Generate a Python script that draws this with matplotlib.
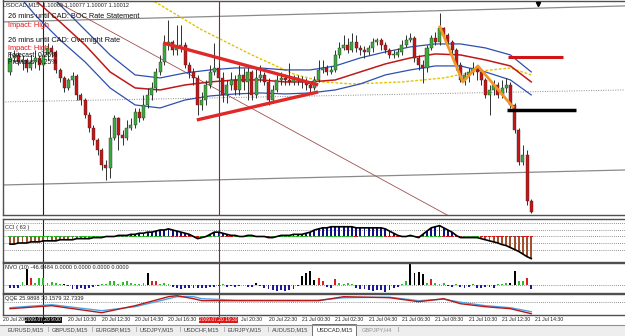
import matplotlib
matplotlib.use("Agg")
import matplotlib.pyplot as plt
from matplotlib.patches import Rectangle
import numpy as np

W, H = 625, 336
plt.rcParams['font.family'] = ['Liberation Sans', 'DejaVu Sans']

# ---------------- data ----------------
first_open = 1.10710
close = [1.10780, 1.10795, 1.10760, 1.10770, 1.10730, 1.10760, 1.10780, 1.10745, 1.10795, 1.10830,
         1.10810, 1.10720, 1.10680, 1.10630, 1.10670, 1.10690, 1.10595, 1.10570, 1.10495, 1.10430,
         1.10370, 1.10320, 1.10245, 1.10230, 1.10380, 1.10480, 1.10395, 1.10380, 1.10430, 1.10445,
         1.10510, 1.10480, 1.10545, 1.10595, 1.10630, 1.10710, 1.10760, 1.10845, 1.10860, 1.10820,
         1.10830, 1.10845, 1.10745, 1.10710, 1.10680, 1.10545, 1.10570, 1.10645, 1.10710, 1.10730,
         1.10680, 1.10595, 1.10645, 1.10670, 1.10620, 1.10695, 1.10660, 1.10710, 1.10595, 1.10680,
         1.10695, 1.10660, 1.10570, 1.10620, 1.10670, 1.10680, 1.10670, 1.10660, 1.10680, 1.10670,
         1.10660, 1.10645, 1.10630, 1.10670, 1.10720, 1.10730, 1.10710, 1.10720, 1.10795, 1.10830,
         1.10845, 1.10820, 1.10860, 1.10830, 1.10820, 1.10810, 1.10830, 1.10860, 1.10870, 1.10845,
         1.10820, 1.10795, 1.10795, 1.10810, 1.10845, 1.10870, 1.10880, 1.10780, 1.10745, 1.10730,
         1.10830, 1.10880, 1.10860, 1.10930, 1.10895, 1.10860, 1.10820, 1.10745, 1.10670, 1.10695,
         1.10710, 1.10730, 1.10710, 1.10670, 1.10595, 1.10620, 1.10645, 1.10595, 1.10630, 1.10645,
         1.10545, 1.10420, 1.10260, 1.10295, 1.10063, 1.10012]
high = [1.10810, 1.10820, 1.10810, 1.10795, 1.10780, 1.10795, 1.10820, 1.10795, 1.10845, 1.10855,
        1.10845, 1.10820, 1.10730, 1.10690, 1.10680, 1.10710, 1.10700, 1.10605, 1.10580, 1.10510,
        1.10445, 1.10380, 1.10330, 1.10270, 1.10445, 1.10495, 1.10485, 1.10420, 1.10470, 1.10480,
        1.10530, 1.10530, 1.10595, 1.10630, 1.10660, 1.10730, 1.10795, 1.10895, 1.10970, 1.10870,
        1.10945, 1.10945, 1.10860, 1.10760, 1.10730, 1.10695, 1.10610, 1.10670, 1.10745, 1.10855,
        1.10755, 1.10710, 1.10670, 1.10710, 1.10695, 1.10745, 1.10730, 1.10745, 1.10720, 1.10730,
        1.10745, 1.10710, 1.10680, 1.10645, 1.10695, 1.10710, 1.10700, 1.10755, 1.10695, 1.10695,
        1.10690, 1.10680, 1.10660, 1.10690, 1.10770, 1.10770, 1.10745, 1.10740, 1.10820, 1.10860,
        1.10895, 1.10880, 1.10905, 1.10895, 1.10845, 1.10840, 1.10845, 1.10880, 1.10880, 1.10880,
        1.10860, 1.10830, 1.10820, 1.10830, 1.10870, 1.10895, 1.10905, 1.10890, 1.10795, 1.10770,
        1.10845, 1.10895, 1.10910, 1.11005, 1.10935, 1.10905, 1.10870, 1.10830, 1.10760, 1.10710,
        1.10730, 1.10760, 1.10745, 1.10720, 1.10680, 1.10645, 1.10670, 1.10660, 1.10670, 1.10680,
        1.10660, 1.10555, 1.10430, 1.10345, 1.10320, 1.10077]
low = [1.10695, 1.10760, 1.10745, 1.10720, 1.10710, 1.10720, 1.10730, 1.10720, 1.10730, 1.10770,
       1.10785, 1.10705, 1.10660, 1.10610, 1.10620, 1.10645, 1.10570, 1.10545, 1.10480, 1.10410,
       1.10345, 1.10295, 1.10220, 1.10170, 1.10180, 1.10370, 1.10320, 1.10345, 1.10370, 1.10420,
       1.10430, 1.10460, 1.10470, 1.10530, 1.10570, 1.10610, 1.10695, 1.10745, 1.10820, 1.10795,
       1.10795, 1.10810, 1.10730, 1.10680, 1.10645, 1.10495, 1.10520, 1.10545, 1.10630, 1.10695,
       1.10660, 1.10560, 1.10555, 1.10620, 1.10595, 1.10595, 1.10620, 1.10570, 1.10570, 1.10580,
       1.10660, 1.10645, 1.10545, 1.10555, 1.10610, 1.10645, 1.10645, 1.10645, 1.10645, 1.10645,
       1.10630, 1.10620, 1.10610, 1.10620, 1.10660, 1.10705, 1.10695, 1.10700, 1.10710, 1.10780,
       1.10820, 1.10805, 1.10810, 1.10810, 1.10795, 1.10780, 1.10795, 1.10810, 1.10845, 1.10820,
       1.10805, 1.10780, 1.10780, 1.10785, 1.10795, 1.10835, 1.10860, 1.10760, 1.10720, 1.10655,
       1.10710, 1.10820, 1.10845, 1.10845, 1.10880, 1.10845, 1.10795, 1.10720, 1.10660, 1.10645,
       1.10660, 1.10695, 1.10670, 1.10645, 1.10580, 1.10495, 1.10595, 1.10580, 1.10580, 1.10610,
       1.10530, 1.10405, 1.10245, 1.10245, 1.10045, 1.10007]

band_idx = [0, 6, 12, 18, 24, 30, 36, 42, 48, 54, 60, 66, 72, 78, 84, 90, 96, 102, 108, 114, 120, 125]
band_mid = [1.11220, 1.11070, 1.10960, 1.10845, 1.10710, 1.10630, 1.10620, 1.10645, 1.10660, 1.10670, 1.10670,
            1.10660, 1.10660, 1.10670, 1.10710, 1.10750, 1.10780, 1.10800, 1.10795, 1.10770, 1.10740, 1.10660]
band_up = [1.11295, 1.11170, 1.11045, 1.10920, 1.10795, 1.10695, 1.10680, 1.10705, 1.10720, 1.10730, 1.10730,
           1.10720, 1.10720, 1.10740, 1.10780, 1.10810, 1.10835, 1.10850, 1.10850, 1.10830, 1.10795, 1.10710]
band_lo = [1.11145, 1.10995, 1.10870, 1.10760, 1.10630, 1.10545, 1.10530, 1.10570, 1.10590, 1.10600, 1.10605,
           1.10600, 1.10605, 1.10620, 1.10650, 1.10695, 1.10720, 1.10740, 1.10740, 1.10710, 1.10670, 1.10595]

slow_idx = [22, 34, 46, 58, 68, 75, 82, 94, 104, 111, 120, 125]
slow_ma = [1.11270, 1.11070, 1.10920, 1.10795, 1.10700, 1.10660, 1.10650, 1.10660, 1.10680, 1.10710, 1.10730, 1.10695]

cci = [-117, -117, -100, -100, -100, -83, -83, -83, -67, -67,
       -67, -67, -50, -50, -50, -50, -33, -33, -33, -33,
       -17, -17, -17, 0, 0, 0, 17, 17, 17, 33,
       33, 50, 50, 67, 67, 83, 100, 100, 117, 100,
       83, 67, 50, 33, 0, -33, -17, 0, 33, 67,
       67, 50, 33, 17, 17, 0, 0, 17, 17, 0,
       0, 0, -17, -17, 0, 17, 17, 17, 33, 33,
       33, 50, 67, 100, 117, 133, 133, 150, 150, 150,
       150, 150, 150, 133, 133, 133, 133, 133, 133, 133,
       117, 83, 50, 17, 0, 0, 17, 0, -17, 33,
       83, 133, 150, 167, 133, 100, 67, 17, -17, -17,
       -17, -17, -17, -33, -50, -67, -83, -100, -125, -140,
       -170, -200, -230, -270, -310, -340]
cci_levels = [200, 100, 0, -100, -200]

nvo = [-30, -40, -30, 40, 190, 85, 25, 80, 85, 30,
       35, 20, 10, 8, -15, -45, -50, -40, -45, -30,
       -20, -10, 8, 10, 50, 45, 15, 40, 45, 30,
       10, 12, 20, 140, 50, 50, 15, 20, 10, -25,
       -40, -45, -35, -40, -30, -35, -40, -30, -20, -25,
       -15, 8, -20, -15, -20, -10, 5, -25, -20, 25,
       -10, -30, -45, -55, -70, -60, -75, -65, -50, -10,
       110, 140, 165, 60, 80, 50, -20, -30, 70, 20,
       15, 25, 10, -30, -45, -50, -60, -70, -55, -65,
       -80, -60, -40, -20, 15, 50, 250, 140, 160, 130,
       30, 70, 20, 15, 25, -15, -20, 10, -25, -30,
       -20, 8, -30, -35, -25, -20, -30, 10, 15, 20,
       30, 165, 45, 50, 80, -46.6484]
nvo_kind = ("nnngkrgggg" "gggknnnnnn" "nngggggggg" "gggkrrgggn" "nnnnnnnnnn"
            "ngnnnngnnk" "nnnnnnnnnn" "kkkkrrnnrg" "gggnnnnnnn" "nnnnggkkkk"
            "grgggnngnn" "ngnnnnnggg" "kkggrn")

qqe_idx = [0, 10, 22, 30, 38, 40, 44, 46, 54, 74, 80, 91, 98, 104, 108, 114, 120, 125]
qqe_fast = [36, 42, 28, 42, 60, 62, 56, 52, 52, 52, 60, 58, 50, 56, 46, 40, 36, 26]
qqe_slow = [38, 44, 32, 40, 56, 60, 60, 56, 53, 53, 58, 59, 52, 55, 49, 42, 38, 30]

time_idx = [14, 22, 30, 38, 62, 70, 78, 86, 94, 102, 110, 118, 126]
time_lbl = ["20 Jul 10:30", "20 Jul 12:30", "20 Jul 14:30", "20 Jul 16:30",
            "20 Jul 22:30", "21 Jul 00:30", "21 Jul 02:30", "21 Jul 04:30",
            "21 Jul 06:30", "21 Jul 08:30", "21 Jul 10:30", "21 Jul 12:30", "21 Jul 14:30"]
partial_idx = 55.3
partial_lbl = "Jul 20:30"
event_idx = [8, 50]
event_lbl = ["2009.07.20 9:00", "2009.07.20 19:30"]
shift_idx = 126.5

tri_up = ([36.7, 73.9], [1.10855, 1.10645])
tri_lo = ([44.8, 73.9], [1.10470, 1.10610])
diag = ([10.3, 107.9], [1.11070, 1.09960])
chan_hi = ([-1.7, 147.5], [1.10960, 1.11040])
chan_lo = ([-1.7, 147.5], [1.10145, 1.10220])
dot_line = ([-1.7, 147.5], [1.10560, 1.10620])
zigzag = ([103.1, 108.6, 112.2, 120.6], [1.10935, 1.10660, 1.10740, 1.10535])
red_lvl = ([119.4, 132.6], [1.10785, 1.10785])
blk_lvl = ([119.2, 135.7], [1.10520, 1.10520])

tabs = ["EURUSD,M15", "GBPUSD,M15", "EURGBP,M15", "USDJPY,M15", "USDCHF,M15",
        "EURJPY,M15", "AUDUSD,M15", "USDCAD,M15", "GBPJPY,H4"]

# ---------------- figure ----------------
fig = plt.figure(figsize=(W / 100, H / 100), dpi=100)
fig.patch.set_facecolor('white')

def px_axes(x0, y0, x1, y1):
    a = fig.add_axes([x0 / W, 1 - y1 / H, (x1 - x0) / W, (y1 - y0) / H])
    a.set_xticks([]); a.set_yticks([])
    return a

def ptext(x, y, s, **kw):
    kw.setdefault('va', 'center')
    return fig.text(x / W, 1 - y / H, s, **kw)

XL = ((3 - 10) / 4.17, (625 - 10) / 4.17)
n = len(close)
x = np.arange(n)
c = np.array(close)
o = np.array([first_open] + close[:-1])
hi = np.maximum(np.array(high), np.maximum(o, c))
lo = np.minimum(np.array(low), np.minimum(o, c))

spine_col = '#505050'

def style(a, top=True):
    a.set_xlim(*XL)
    for s in ['left', 'top', 'bottom']:
        a.spines[s].set_color(spine_col)
        a.spines[s].set_linewidth(1.0)
    a.spines['right'].set_visible(False)
    a.spines['top'].set_visible(top)

# main chart
ax = px_axes(3, 0.5, 625, 215)
style(ax)
ax.set_ylim(1.09995, 1.11067)
ax.plot(*chan_hi, color='#8a8a8a', lw=0.9, zorder=1)
ax.plot(*chan_lo, color='#8a8a8a', lw=0.9, zorder=1)
ax.plot(*dot_line, color='#8a8a8a', lw=0.7, ls=(0, (1, 1.5)), zorder=1)
ax.plot(*diag, color='#a05050', lw=0.6, zorder=1)
ax.plot(slow_idx, slow_ma, color='#e6c200', lw=1.0, ls=(0, (2, 1.2)), zorder=2)
ax.plot(band_idx, band_up, color='#2f4fb0', lw=0.9, zorder=2)
ax.plot(band_idx, band_mid, color='#c01818', lw=1.1, zorder=2)
ax.plot(band_idx, band_lo, color='#2f4fb0', lw=0.9, zorder=2)
ax.axvline(event_idx[0], color='#202020', lw=0.8, zorder=1)
ax.axvline(event_idx[1], color='#8b2a2a', lw=0.8, zorder=1)

ax.vlines(x, lo, hi, color='#303030', lw=0.7, zorder=3)
body_b = np.minimum(o, c)
body_h = np.maximum(np.abs(c - o), 0.00004)
cols = np.where(c >= o, '#3caa3c', '#c81414')
ax.bar(x, body_h, bottom=body_b, width=0.72, color=cols, edgecolor='#303030', linewidth=0.3, zorder=4)

ax.plot(*tri_up, color='#e02828', lw=2.4, solid_capstyle='butt', zorder=5)
ax.plot(*tri_lo, color='#e02828', lw=2.4, solid_capstyle='butt', zorder=5)
ax.plot(*zigzag, color='#f0962a', lw=2.0, zorder=5)
ax.plot(*red_lvl, color='#d01515', lw=2.2, solid_capstyle='butt', zorder=5)
ax.plot(*blk_lvl, color='#000000', lw=2.5, solid_capstyle='butt', zorder=5)
ax.plot([shift_idx], [0.985], marker='v', ms=3, color='black', transform=ax.get_xaxis_transform(),
        clip_on=False, zorder=6)

ptext(3, 4.5, "USDCAD,M15  1.10063 1.10077 1.10007 1.10012", fontsize=4.1, color='#202020')
ptext(8, 17, "26 mins until CAD: BOC Rate Statement", fontsize=5.3, color='#101010')
ptext(8, 25.5, "Impact: High", fontsize=5.3, color='#e01010')
ptext(8, 40, "26 mins until CAD: Overnight Rate", fontsize=5.3, color='#101010')
ptext(8, 48, "Impact: High", fontsize=5.3, color='#e01010')
ptext(8, 55.5, "Forecast: 0.25%", fontsize=4.9, color='#101010')
ptext(8, 62.5, "Previous: 0.25%", fontsize=4.9, color='#101010')

# CCI panel
axc = px_axes(3, 219, 625, 262)
style(axc)
axc.set_ylim(-392, 269)
for lv in cci_levels:
    axc.axhline(lv, color='#707070', lw=0.6, ls=(0, (1, 1.5)), zorder=1)
ccia = np.array(cci, dtype=float)
bcol = np.where(ccia > 0, '#10108a', '#a0522d')
axc.bar(x, ccia, width=0.45, color=bcol, zorder=2)
rising = np.diff(np.concatenate([[ccia[0]], ccia])) >= 0
mcol = np.where(rising, '#20b020', '#d01818')
axc.bar(x, np.full(n, 30.0), bottom=-15, width=0.8, color=mcol, zorder=3)
axc.plot(x, ccia, color='black', lw=1.2, zorder=4)
axc.axvline(event_idx[0], color='#202020', lw=0.8, zorder=1)
axc.axvline(event_idx[1], color='#8b2a2a', lw=0.8, zorder=1)
ptext(5, 227.5, "CCI ( 63 )", fontsize=4.1, color='#202020')

# NVO panel
axn = px_axes(3, 263, 625, 293)
style(axn)
axn.set_ylim(-96, 264)
axn.axhline(0, color='#707070', lw=0.6, ls=(0, (1, 1.5)), zorder=1)
kmap = {'k': '#000000', 'g': '#2cbb2c', 'r': '#d82020', 'n': '#1a1a9a'}
axn.bar(x, nvo, width=0.45, color=[kmap[k] for k in nvo_kind], zorder=2)
axn.axvline(event_idx[0], color='#202020', lw=0.8, zorder=1)
axn.axvline(event_idx[1], color='#8b2a2a', lw=0.8, zorder=1)
ptext(5, 267.5, "NVO (10) -46.6484 0.0000 0.0000 0.0000 0.0000", fontsize=4.1, color='#202020')

# QQE panel
axq = px_axes(3, 294, 625, 315)
style(axq)
axq.set_ylim(23.4, 65.4)
axq.axhline(50, color='#707070', lw=0.6, ls=(0, (1, 1.5)), zorder=1)
axq.plot(qqe_idx, qqe_slow, color='#4aa3e6', lw=1.0, zorder=2)
axq.plot(qqe_idx, qqe_fast, color='#b81818', lw=1.0, zorder=3)
axq.axvline(event_idx[0], color='#202020', lw=0.8, zorder=1)
axq.axvline(event_idx[1], color='#8b2a2a', lw=0.8, zorder=1)
ptext(5, 298.5, "QQE 25.9898 30.1579 32.7339", fontsize=4.1, color='#202020')

# time axis
axt = px_axes(3, 315, 625, 324)
axt.set_xlim(*XL); axt.set_ylim(0, 1)
for s in axt.spines.values():
    s.set_visible(False)
axt.patch.set_alpha(0)
axt.text(XL[0] + 0.1, 0.45, "20 Jul 200", fontsize=3.7, color='#202020', ha='left', va='center')
for i, s in zip(time_idx, time_lbl):
    axt.text(i, 0.45, s, fontsize=3.7, color='#202020', ha='left', va='center')
axt.text(partial_idx, 0.45, partial_lbl, fontsize=3.7, color='#202020', ha='left', va='center')
axt.vlines(event_idx, 0.0, 1.0, colors=['#202020', '#8b2a2a'], lw=0.8)
axt.text(event_idx[0], 0.45, event_lbl[0], fontsize=3.5, color='white', ha='center', va='center',
         bbox=dict(boxstyle='square,pad=0.12', fc='#101010', ec='none'), zorder=5)
axt.text(event_idx[1], 0.45, event_lbl[1], fontsize=3.5, color='white', ha='center', va='center',
         bbox=dict(boxstyle='square,pad=0.12', fc='#e01818', ec='none'), zorder=5)

# tab bar
fig.patches.append(Rectangle((0, 0), 1, 11 / H, transform=fig.transFigure, fc='#eeeeee', ec='none', zorder=0))
fig.lines.append(plt.Line2D([0, 1], [1 - 324.5 / H] * 2, transform=fig.transFigure, color='#909090', lw=0.8))
fig.patches.append(Rectangle((312 / W, 0), 44 / W, 12 / H, transform=fig.transFigure, fc='white',
                             ec='#707070', lw=0.7, zorder=1))
tab_x = [7, 52, 96, 140, 184, 228, 272, 317, 362]
sep_x = [48, 92, 136, 180, 224, 268, 398]
for tx, name in zip(tab_x, tabs):
    col = '#202020' if name == "USDCAD,M15" else ('#909090' if name == "GBPJPY,H4" else '#404040')
    ptext(tx, 330, name, fontsize=4.1, color=col, zorder=3)
for sx in sep_x:
    ptext(sx, 330, "|", fontsize=4.1, color='#808080')

fig.savefig("out.png", dpi=100, facecolor='white')
